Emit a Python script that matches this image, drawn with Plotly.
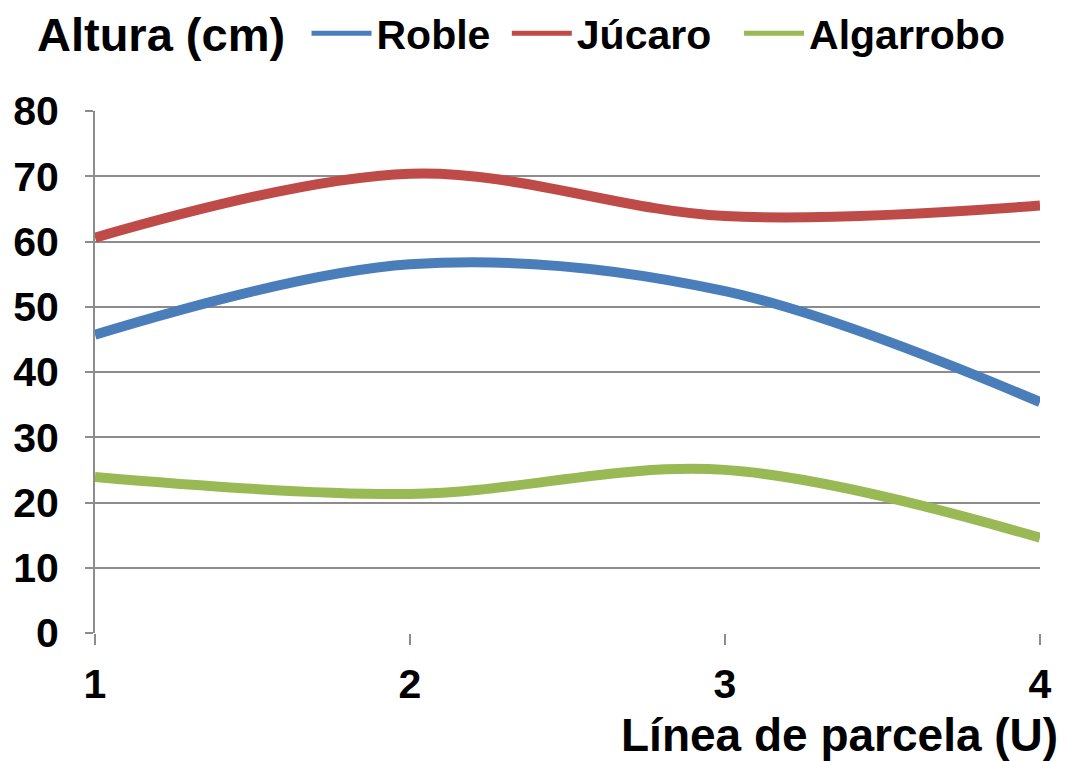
import plotly.graph_objects as go

# Parcel lines (x) and mean height per species (cm)
lineas = [1, 2, 3, 4]
roble = [45.7, 56.5, 52.4, 35.4]
jucaro = [60.6, 70.4, 63.9, 65.5]
algarrobo = [23.9, 21.3, 25.0, 14.6]

y_ticks = [0, 10, 20, 30, 40, 50, 60, 70, 80]

FONT = "Liberation Sans, Arial, sans-serif"
GRID = "#8c8c8c"
NBSP = "\u00a0"

# legend labels carry a little trailing padding to space the entries apart
series = [
    ("Roble" + NBSP, roble, "#4a7ebb"),
    ("Júcaro" + NBSP * 2, jucaro, "#be4b48"),
    ("Algarrobo", algarrobo, "#98b954"),
]

fig = go.Figure()
for name, vals, color in series:
    fig.add_trace(go.Scatter(
        x=lineas, y=vals, name=name, mode="lines",
        line=dict(color=color, width=10, shape="spline", smoothing=1.0),
    ))

fig.update_layout(
    width=1068, height=761,
    margin=dict(l=95, r=28, t=111, b=128),
    paper_bgcolor="white", plot_bgcolor="white",
    font=dict(family=FONT, color="black"),
    showlegend=True,
    legend=dict(
        orientation="h",
        xref="container", yref="container",
        x=0.287, xanchor="left",
        y=0.956, yanchor="middle",
        font=dict(family=FONT, size=41, color="black", weight="bold"),
        itemwidth=60, itemsizing="constant",
        traceorder="normal",
        bgcolor="rgba(0,0,0,0)",
    ),
    xaxis=dict(
        range=[1, 4], tickvals=lineas, ticktext=[str(v) for v in lineas],
        showgrid=False, zeroline=False,
        showline=False,
        ticks="outside", ticklen=11, tickwidth=2, tickcolor=GRID,
        ticklabelstandoff=4,
        tickfont=dict(family=FONT, size=41, color="black", weight="bold"),
    ),
    yaxis=dict(
        range=[0, 80], tickvals=y_ticks,
        showgrid=True, gridcolor=GRID, gridwidth=2,
        zeroline=False,
        showline=True, linecolor=GRID, linewidth=2,
        ticks="outside", ticklen=8, tickwidth=2, tickcolor=GRID,
        ticklabelstandoff=18,
        tickfont=dict(family=FONT, size=41, color="black", weight="bold"),
    ),
    annotations=[
        dict(text="Altura (cm)", xref="paper", yref="paper",
             x=-0.0635, y=1.146, xanchor="left", yanchor="middle",
             showarrow=False,
             font=dict(family=FONT, size=47, color="black", weight="bold")),
        dict(text="Línea de parcela (U)", xref="paper", yref="paper",
             x=1.021, y=-0.1954, xanchor="right", yanchor="middle",
             showarrow=False,
             font=dict(family=FONT, size=46, color="black", weight="bold")),
    ],
)

fig.write_html("out.html")
